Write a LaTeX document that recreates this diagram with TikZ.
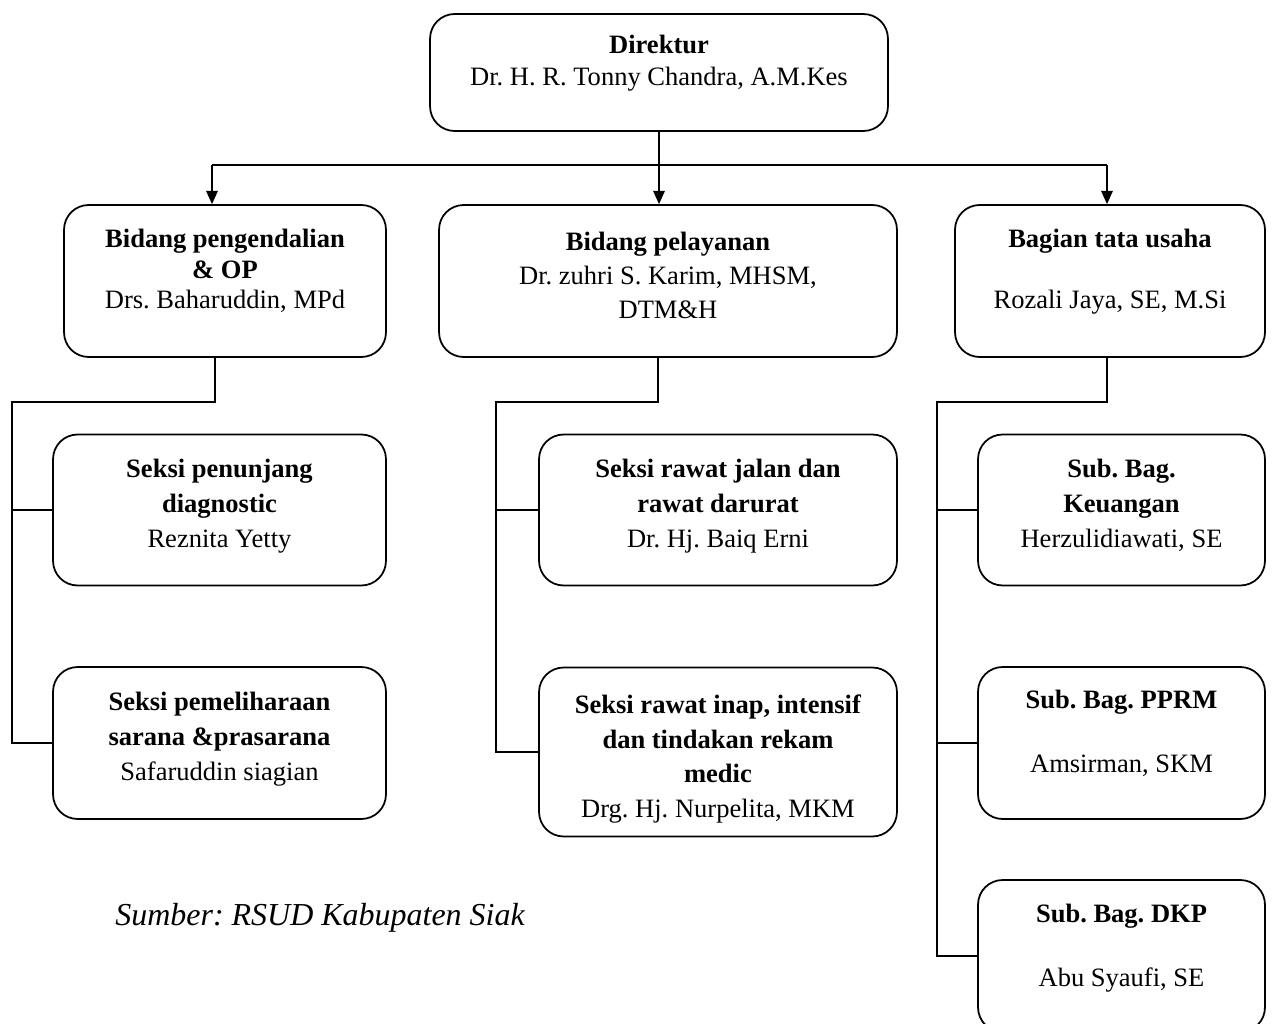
\documentclass[tikz,border=0pt]{standalone}
\usepackage{fontspec}
\setmainfont{Liberation Serif}
\usetikzlibrary{arrows.meta}
\frenchspacing
\begin{document}
\begin{tikzpicture}[x=0.02cm, y=-0.02cm]
	    \tikzset{>={Triangle[length=7.5pt, width=6.5pt]}}
	    \tikzset{unit/.style={draw, line width=1pt, rounded corners=14pt, inner sep=0pt}}
	    \tikzset{txt/.style={align=center, anchor=north, inner sep=0pt, font=\fontsize{15.1}{17.3}\selectfont}}
	    \tikzset{txtloose/.style={txt, font=\fontsize{15.1}{19.9}\selectfont}}
	    \tikzset{link/.style={line width=1pt}}
	    \clip (0,0) rectangle (1275,1024);
	    \node[unit, minimum width=9.16cm, minimum height=2.34cm] (dir) at (659,72.5) {};
	    \node[unit, minimum width=6.44cm, minimum height=3.04cm] (bp) at (225,281) {};
	    \node[unit, minimum width=9.16cm, minimum height=3.04cm] (bpl) at (668,281) {};
	    \node[unit, minimum width=6.2cm, minimum height=3.04cm] (bu) at (1110,281) {};
	    \node[unit, minimum width=6.66cm, minimum height=3.02cm] (s1) at (219.5,510) {};
	    \node[unit, minimum width=6.66cm, minimum height=3.04cm] (s2) at (219.5,743) {};
	    \node[unit, minimum width=7.16cm, minimum height=3.02cm] (s3) at (718,510) {};
	    \node[unit, minimum width=7.16cm, minimum height=3.38cm] (s4) at (718,752) {};
	    \node[unit, minimum width=5.74cm, minimum height=3.02cm] (keu) at (1121.5,510) {};
	    \node[unit, minimum width=5.74cm, minimum height=3.04cm] (pprm) at (1121.5,743) {};
	    \node[unit, minimum width=5.74cm, minimum height=3.04cm] (dkp) at (1121.5,956) {};
	    \node[txt, font=\fontsize{15.1}{18.2}\selectfont] (dirtxt) at (659,35) {\textbf{Direktur}\\Dr. H. R. Tonny Chandra, A.M.Kes};
	    \node[txt] (bptxt) at (225,229) {\textbf{Bidang pengendalian}\\\textbf{\& OP}\\Drs. Baharuddin, MPd};
	    \node[txt, font=\fontsize{15.1}{19.3}\selectfont] (bpltxt) at (668,232) {\textbf{Bidang pelayanan}\\Dr. zuhri S. Karim, MHSM,\\DTM\&H};
	    \node[txt] (butxt) at (1110,229) {\textbf{Bagian tata usaha}\\[17.4pt]Rozali Jaya, SE, M.Si};
	    \node[txtloose] (s1txt) at (219.5,459) {\textbf{Seksi penunjang}\\\textbf{diagnostic}\\Reznita Yetty};
	    \node[txtloose] (s2txt) at (219.5,692) {\textbf{Seksi pemeliharaan}\\\textbf{sarana \&prasarana}\\Safaruddin siagian};
	    \node[txtloose] (s3txt) at (718,459) {\textbf{Seksi rawat jalan dan}\\\textbf{rawat darurat}\\Dr. Hj. Baiq Erni};
	    \node[txtloose] (s4txt) at (718,694) {\textbf{Seksi rawat inap, intensif}\\\textbf{dan tindakan rekam}\\\textbf{medic}\\Drg. Hj. Nurpelita, MKM};
	    \node[txtloose] (keutxt) at (1121.5,459) {\textbf{Sub. Bag.}\\\textbf{Keuangan}\\Herzulidiawati, SE};
	    \node[txtloose] (pprmtxt) at (1121.5,690) {\textbf{Sub. Bag. PPRM}\\[16.5pt]Amsirman, SKM};
	    \node[txtloose] (dkptxt) at (1121.5,904) {\textbf{Sub. Bag. DKP}\\[16.5pt]Abu Syaufi, SE};
	    \node[anchor=base west, inner sep=0pt, font=\fontsize{18.2}{21}\selectfont\itshape] (src) at (115,925) {Sumber: RSUD Kabupaten Siak};
	    \coordinate (busL) at (212,165);
	    \coordinate (busR) at (1107,165);
	    \draw[link] (dir.south) -- (dir.south |- busL);
	    \draw[link] (busL) -- (busR);
	    \draw[link,->] (busL) -- (busL |- bp.north);
	    \draw[link,->] (dir.south |- busL) -- (dir.south |- bpl.north);
	    \draw[link,->] (busR) -- (busR |- bu.north);
	    \coordinate (lk) at (215,402);
	    \coordinate (lspine) at (12,402);
	    \draw[link] (lk |- bp.south) -- (lk) -- (lspine) -- (lspine |- s2.west) -- (s2.west);
	    \draw[link] (lspine |- s1.west) -- (s1.west);
	    \coordinate (mk) at (658,402);
	    \coordinate (mspine) at (496,402);
	    \draw[link] (mk |- bpl.south) -- (mk) -- (mspine) -- (mspine |- s4.west) -- (s4.west);
	    \draw[link] (mspine |- s3.west) -- (s3.west);
	    \coordinate (rk) at (1107,402);
	    \coordinate (rspine) at (937,402);
	    \draw[link] (rk |- bu.south) -- (rk) -- (rspine) -- (rspine |- dkp.west) -- (dkp.west);
	    \draw[link] (rspine |- keu.west) -- (keu.west);
	    \draw[link] (rspine |- pprm.west) -- (pprm.west);
	    \end{tikzpicture}
\end{document}
